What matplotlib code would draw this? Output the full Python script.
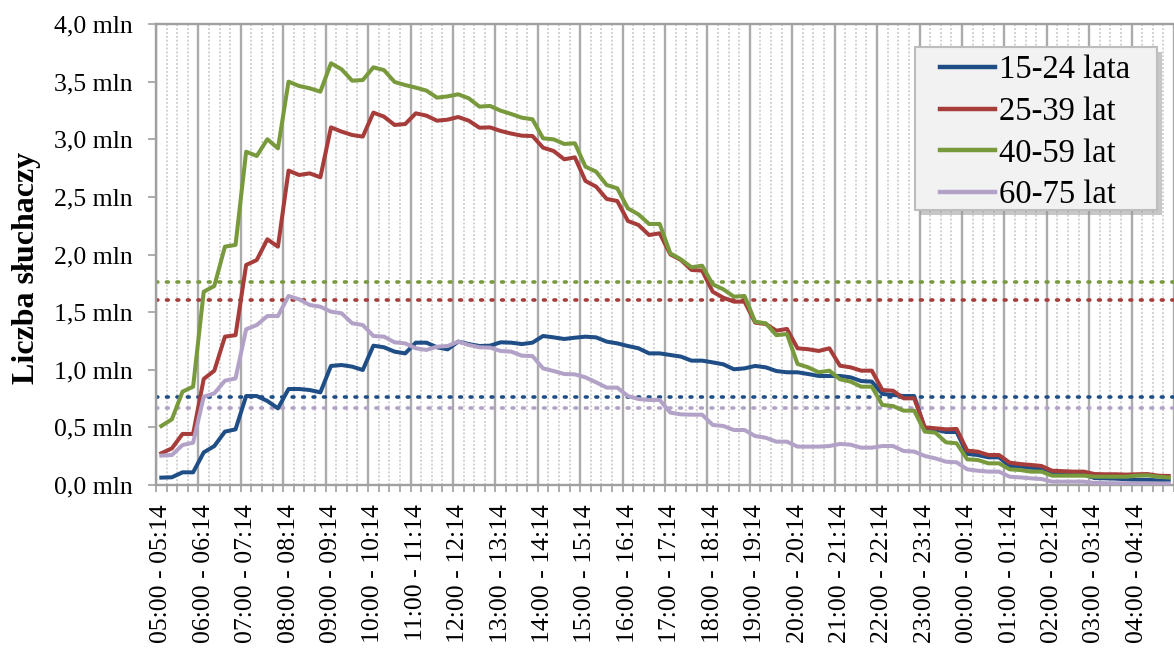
import matplotlib.pyplot as plt
from matplotlib.patches import Rectangle

# 15-minute slots, 05:00 -> 04:45
hours = [(5 + h) % 24 for h in range(24)]
tick_labels = [f"{h:02d}:00 - {h:02d}:14" for h in hours]

young = [0.064, 0.067, 0.11, 0.11, 0.283, 0.338, 0.463, 0.483, 0.772, 0.772, 0.729, 0.665,
         0.833, 0.833, 0.824, 0.804, 1.033, 1.041, 1.027, 0.998, 1.209, 1.195, 1.157, 1.142,
         1.235, 1.235, 1.195, 1.177, 1.244, 1.223, 1.206, 1.209, 1.238, 1.235, 1.223, 1.235,
         1.293, 1.281, 1.267, 1.278, 1.287, 1.281, 1.244, 1.229, 1.206, 1.186, 1.142, 1.142,
         1.128, 1.114, 1.079, 1.079, 1.064, 1.047, 1.004, 1.012, 1.033, 1.021, 0.989, 0.978,
         0.978, 0.963, 0.946, 0.946, 0.946, 0.934, 0.902, 0.897, 0.79, 0.781, 0.772, 0.772,
         0.49, 0.48, 0.46, 0.46, 0.27, 0.26, 0.24, 0.24, 0.165, 0.16, 0.15, 0.145,
         0.10, 0.10, 0.095, 0.095, 0.06, 0.058, 0.055, 0.05, 0.045, 0.045, 0.04, 0.04]

adults = [0.275, 0.318, 0.443, 0.443, 0.92, 0.992, 1.287, 1.30, 1.909, 1.952, 2.132, 2.068,
          2.728, 2.69, 2.704, 2.67, 3.103, 3.066, 3.037, 3.023, 3.231, 3.196, 3.124, 3.132,
          3.225, 3.205, 3.161, 3.17, 3.193, 3.161, 3.10, 3.103, 3.072, 3.049, 3.031, 3.028,
          2.927, 2.898, 2.826, 2.843, 2.638, 2.589, 2.482, 2.464, 2.291, 2.256, 2.169, 2.184,
          2.001, 1.952, 1.866, 1.86, 1.677, 1.625, 1.591, 1.591, 1.409, 1.397, 1.339, 1.354,
          1.186, 1.178, 1.163, 1.186, 1.035, 1.021, 0.992, 0.992, 0.824, 0.818, 0.752, 0.752,
          0.50, 0.492, 0.483, 0.486, 0.298, 0.289, 0.26, 0.26, 0.194, 0.182, 0.174, 0.165,
          0.124, 0.12, 0.116, 0.116, 0.095, 0.093, 0.093, 0.09, 0.093, 0.095, 0.081, 0.078]

middle = [0.512, 0.57, 0.81, 0.853, 1.677, 1.727, 2.068, 2.083, 2.892, 2.855, 3.0, 2.921,
          3.50, 3.462, 3.442, 3.413, 3.659, 3.607, 3.508, 3.514, 3.624, 3.60, 3.497, 3.47,
          3.448, 3.422, 3.361, 3.372, 3.39, 3.355, 3.283, 3.289, 3.248, 3.219, 3.187, 3.173,
          3.008, 2.999, 2.959, 2.965, 2.762, 2.719, 2.603, 2.574, 2.40, 2.348, 2.265, 2.265,
          2.01, 1.958, 1.889, 1.903, 1.741, 1.698, 1.634, 1.64, 1.417, 1.403, 1.30, 1.31,
          1.05, 1.021, 0.978, 0.992, 0.917, 0.897, 0.853, 0.853, 0.694, 0.685, 0.645, 0.645,
          0.463, 0.454, 0.37, 0.362, 0.223, 0.217, 0.188, 0.188, 0.136, 0.13, 0.116, 0.116,
          0.081, 0.081, 0.081, 0.081, 0.072, 0.072, 0.072, 0.072, 0.081, 0.084, 0.072, 0.065]

seniors = [0.255, 0.26, 0.347, 0.367, 0.766, 0.795, 0.905, 0.925, 1.351, 1.388, 1.466, 1.466,
           1.64, 1.611, 1.562, 1.547, 1.504, 1.49, 1.403, 1.388, 1.293, 1.287, 1.238, 1.229,
           1.186, 1.172, 1.2, 1.206, 1.244, 1.215, 1.195, 1.192, 1.163, 1.157, 1.122, 1.119,
           1.012, 0.989, 0.963, 0.96, 0.934, 0.891, 0.845, 0.845, 0.772, 0.746, 0.738, 0.738,
           0.628, 0.613, 0.61, 0.61, 0.521, 0.512, 0.477, 0.477, 0.425, 0.41, 0.376, 0.376,
           0.333, 0.333, 0.333, 0.338, 0.356, 0.35, 0.324, 0.324, 0.338, 0.338, 0.295, 0.29,
           0.252, 0.231, 0.202, 0.197, 0.136, 0.124, 0.116, 0.116, 0.072, 0.066, 0.058, 0.052,
           0.029, 0.029, 0.029, 0.029, 0.018, 0.016, 0.015, 0.015, 0.015, 0.015, 0.014, 0.014]

series_names = ["15-24 lata", "25-39 lat", "40-59 lat", "60-75 lat"]
averages = [0.766, 1.605, 1.764, 0.665]
colors = ["#1f4e87", "#a63d3a", "#789a3d", "#b3a2c7"]

plt.rcParams['font.family'] = ['Liberation Serif', 'DejaVu Serif']

W, H = 1174, 653
fig = plt.figure(figsize=(W / 100, H / 100), dpi=100)
ax = fig.add_axes([156 / W, 1 - 485 / H, 1 - 156 / W, (485 - 24) / H])

x = list(range(len(young)))

# vertical grid: solid every hour, dotted every quarter
for k in range(len(young) + 1):
    b = k - 0.5
    if k % 4 == 0:
        ax.axvline(b, color="#ababab", lw=1.7, zorder=1)
    else:
        ax.axvline(b, color="#d2d2d2", lw=1.4, ls=(0, (1, 1)), zorder=1)

for avg, c in zip(averages, colors):
    ax.axhline(avg, color=c, lw=2.6, ls=(0, (0.5, 2.4)), dash_capstyle="round", zorder=2)

for vals, name, c in zip([young, adults, middle, seniors], series_names, colors):
    ax.plot(x, vals, color=c, lw=2.9, label=name, zorder=3)

ax.set_xlim(-0.5, 94.2)
ax.set_ylim(0, 4.0)

ax.set_yticks([i * 0.5 for i in range(9)])
ax.set_yticklabels([f"{i * 0.5:.1f}".replace(".", ",") + " mln" for i in range(9)], fontsize=18.5)
ax.set_xticks(list(range(0, 96, 4)))
ax.set_xticklabels(tick_labels, rotation=90, fontsize=18.5)
ax.set_xticks([k - 0.5 for k in range(97)], minor=True)
ax.tick_params(axis="x", which="major", length=0, pad=14)
ax.tick_params(axis="x", which="minor", length=5, color="#a0a0a0", width=1.2)
ax.tick_params(axis="y", length=5.5, color="#a0a0a0", width=1.2, pad=11)

for side in ["left", "top", "bottom"]:
    ax.spines[side].set_color("#a0a0a0")
    ax.spines[side].set_linewidth(1.7)
ax.spines["right"].set_visible(False)

fig.text(27 / W, 1 - 268 / H, "Liczba słuchaczy", rotation=90, fontsize=23,
         fontweight="bold", ha="center", va="center")

# legend box with shadow
bx0, by0, bx1, by1 = 915, 47, 1157, 210
fig.patches.append(Rectangle(((bx0 + 5) / W, 1 - (by1 + 5) / H), (bx1 - bx0) / W, (by1 - by0) / H,
                             transform=fig.transFigure, facecolor="#9a9a9a", alpha=0.55,
                             edgecolor="none", zorder=5))
fig.patches.append(Rectangle((bx0 / W, 1 - by1 / H), (bx1 - bx0) / W, (by1 - by0) / H,
                             transform=fig.transFigure, facecolor="#f2f2f2",
                             edgecolor="#bdbdbd", lw=1.5, zorder=6))

leg = fig.legend(loc="upper left", bbox_to_anchor=(940 / W, 1 - 55 / H),
                 bbox_transform=fig.transFigure, fontsize=23.5, frameon=False,
                 handlelength=1.7, handletextpad=0.1, labelspacing=0.34,
                 borderpad=0, borderaxespad=0)
leg.set_zorder(7)
for line in leg.get_lines():
    line.set_linewidth(3.2)

fig.savefig("out.png", dpi=100)
